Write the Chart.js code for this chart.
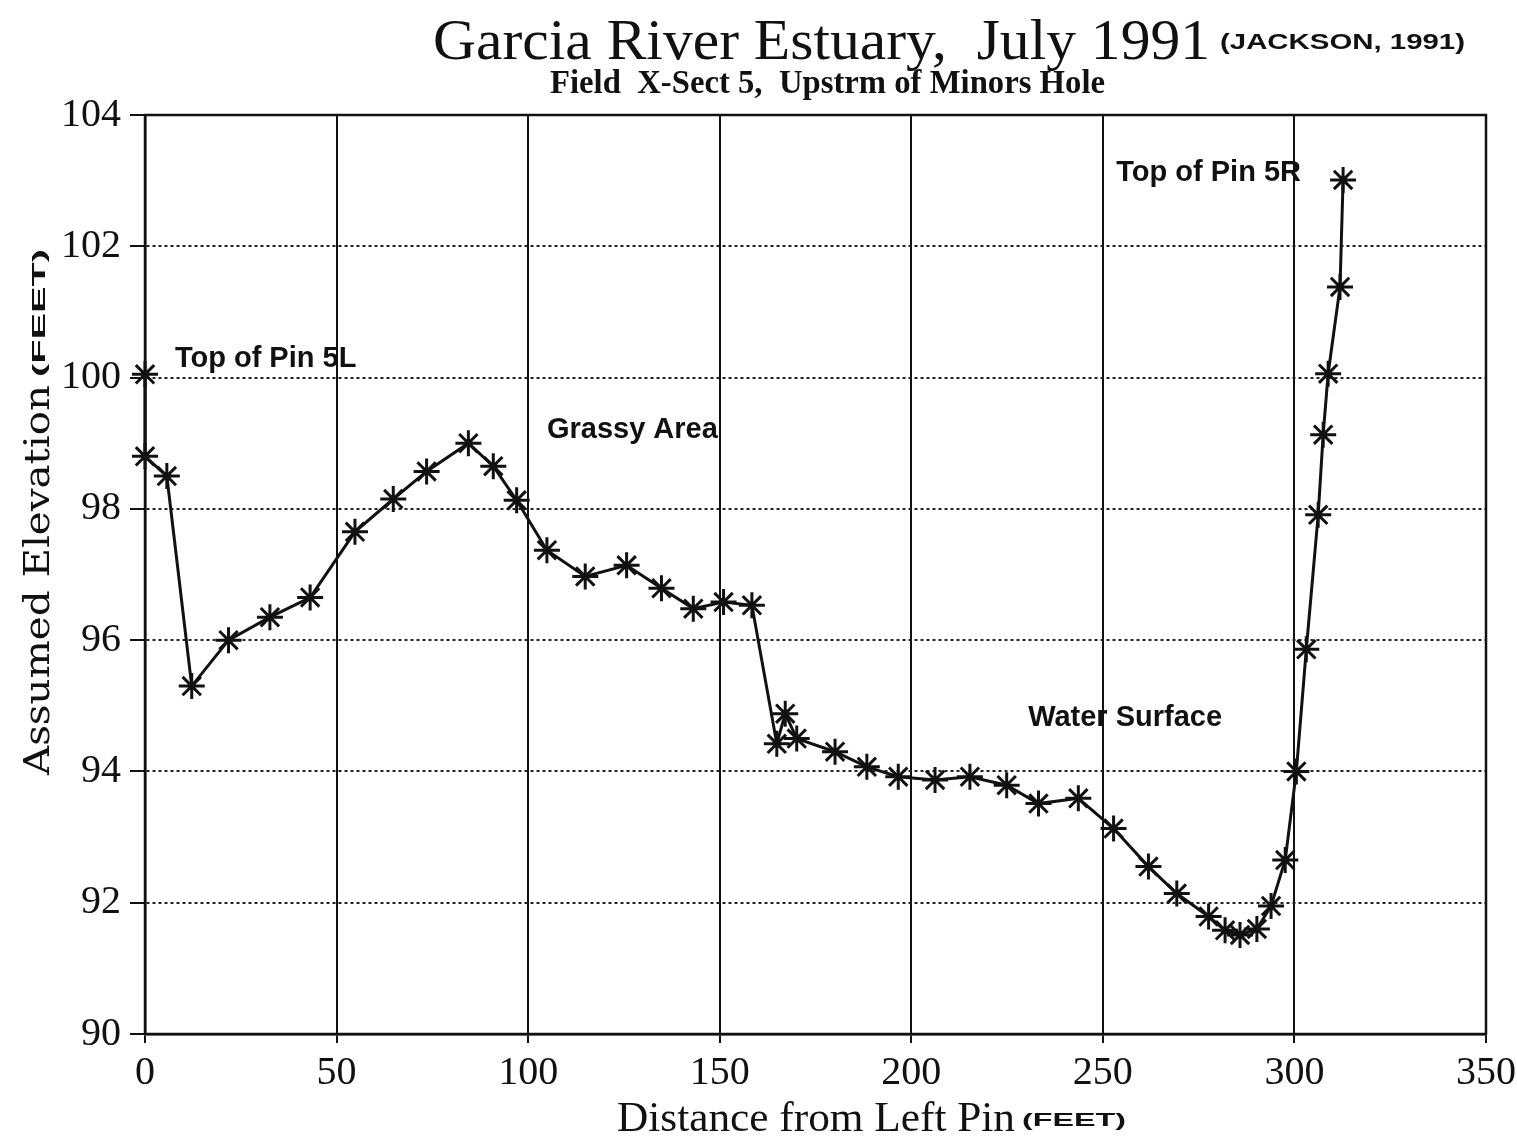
<!DOCTYPE html>
<html>
<head>
<meta charset="utf-8">
<script src="https://cdn.jsdelivr.net/npm/chart.js@4"></script>
<style>
  body { margin: 0; background: #fff; }
  #wrap { width: 1517px; height: 1139px; }
</style>
</head>
<body>
<div id="wrap"><canvas id="chart" width="1517" height="1139"></canvas></div>
<script>
// distance from left pin (feet) and assumed elevation (feet)
const distFt = [0, 0, 5.7, 12.2, 21.8, 32.6, 43.1, 54.8, 64.8, 73.5, 84.4, 90.9, 97.0, 104.9, 114.9,
    125.7, 134.8, 143.1, 151.0, 158.4, 164.9, 167.1, 170.1, 180.1, 188.4, 196.6, 206.2, 215.3, 224.9,
    233.2, 243.6, 252.8, 261.9, 269.3, 277.6, 281.9, 285.8, 290.2, 293.9, 297.6, 300.5, 303.1, 306.2,
    307.5, 308.8, 311.9, 312.7];
const elevFt = [100.05, 98.8, 98.5, 95.3, 96.0, 96.35, 96.65, 97.65, 98.15, 98.57, 99.0, 98.65, 98.13, 97.37, 96.97,
    97.14, 96.79, 96.48, 96.58, 96.53, 94.42, 94.88, 94.5, 94.3, 94.07, 93.92, 93.87, 93.92, 93.79,
    93.51, 93.59, 93.13, 92.55, 92.14, 91.79, 91.58, 91.51, 91.6, 91.95, 92.65, 94.0, 95.86, 97.91,
    99.13, 100.06, 101.38, 103.01];

const noteText = ['Top of Pin 5L', 'Grassy Area', 'Water Surface', 'Top of Pin 5R'];
const noteX = [7.8, 104.9, 230.5, 253.5];
const noteY = [100.28, 99.2, 94.81, 103.12];

const xTicks = [0, 50, 100, 150, 200, 250, 300, 350];
const yTicks = [90, 92, 94, 96, 98, 100, 102, 104];

const INK = '#111';

// draw text squeezed/stretched to a given width
function fitText(ctx, text, x, y, font, width) {
    ctx.save();
    ctx.font = font;
    const w = ctx.measureText(text).width;
    ctx.translate(x, y);
    ctx.scale(width / w, 1);
    ctx.fillText(text, 0, 0);
    ctx.restore();
}

const textPlugin = {
    id: 'texts',
    afterDraw(chart) {
        const ctx = chart.ctx;
        const xs = chart.scales.x, ys = chart.scales.y;
        ctx.save();
        ctx.fillStyle = INK;
        ctx.textAlign = 'left';
        ctx.textBaseline = 'alphabetic';

        // titles
        fitText(ctx, 'Garcia River Estuary,  July 1991', 433, 59, '56px "Liberation Serif"', 777);
        fitText(ctx, '(JACKSON, 1991)', 1220, 49, 'bold 22px "Liberation Sans"', 245);
        fitText(ctx, 'Field  X-Sect 5,  Upstrm of Minors Hole', 550, 93, 'bold 34px "Liberation Serif"', 555);

        // x axis title
        fitText(ctx, 'Distance from Left Pin', 617, 1131, '42px "Liberation Serif"', 398);
        fitText(ctx, '(FEET)', 1022, 1126, 'bold 18px "Liberation Sans"', 104);

        // y axis title, rotated
        ctx.save();
        ctx.translate(49, 775);
        ctx.rotate(-Math.PI / 2);
        fitText(ctx, 'Assumed Elevation', 0, 0, '36px "DejaVu Serif"', 390);
        fitText(ctx, '(FEET)', 398, -4, 'bold 18px "Liberation Sans"', 128);
        ctx.restore();

        // annotations
        ctx.font = 'bold 29px "Liberation Sans"';
        ctx.textBaseline = 'middle';
        noteText.forEach((t, i) => {
            ctx.fillText(t, xs.getPixelForValue(noteX[i]), ys.getPixelForValue(noteY[i]));
        });
        ctx.restore();
    }
};

const ctx = document.getElementById('chart').getContext('2d');
new Chart(ctx, {
    type: 'line',
    data: {
        datasets: [{
            data: distFt.map((d, i) => ({ x: d, y: elevFt[i] })),
            borderColor: INK,
            borderWidth: 3,
            pointStyle: 'star',
            pointRadius: 13,
            pointBorderColor: INK,
            pointBorderWidth: 3,
            pointBackgroundColor: INK,
            tension: 0,
            fill: false,
            clip: false
        }]
    },
    options: {
        responsive: false,
        animation: false,
        layout: { padding: { top: 115, right: 0, left: 0, bottom: 0 } },
        plugins: { legend: { display: false }, tooltip: { enabled: false } },
        scales: {
            x: {
                type: 'linear',
                min: 0, max: 350,
                afterBuildTicks: s => { s.ticks = xTicks.map(v => ({ value: v })); },
                afterFit: s => { s.height = 105; s.paddingLeft = 0; s.paddingRight = 31; },
                grid: { color: INK, lineWidth: 2, tickLength: 9, tickColor: INK, tickWidth: 2 },
                border: { color: INK, width: 2.5 },
                ticks: { color: INK, padding: 6, maxRotation: 0, font: { family: 'Liberation Serif', size: 40 } }
            },
            y: {
                min: 90, max: 104,
                afterBuildTicks: s => { s.ticks = yTicks.map(v => ({ value: v })); },
                afterFit: s => { s.width = 145; },
                grid: { color: '#222', lineWidth: 2, tickLength: 15, tickColor: INK, tickWidth: 2 },
                border: { color: INK, width: 2.5, dash: [3, 3] },
                ticks: { color: INK, padding: 9, font: { family: 'Liberation Serif', size: 40 } }
            }
        }
    },
    plugins: [textPlugin, {
        id: 'frame',
        beforeDatasetsDraw(chart) {
            const a = chart.chartArea, c = chart.ctx;
            c.save();
            c.strokeStyle = INK;
            c.lineWidth = 2.5;
            c.strokeRect(a.left, a.top, a.right - a.left, a.bottom - a.top);
            c.restore();
        }
    }]
});
</script>
</body>
</html>
